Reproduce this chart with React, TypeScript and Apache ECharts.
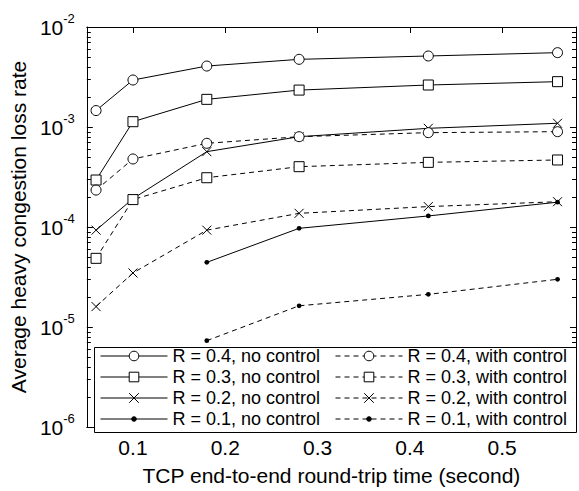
import React, { useEffect, useRef } from "react";
import * as echarts from "echarts";

// x positions (TCP round-trip time, seconds)
const xValues = [0.06, 0.1, 0.18, 0.28, 0.42, 0.56];

// Loss rates
const r04NoControl = [1.46e-3, 2.95e-3, 4.07e-3, 4.75e-3, 5.13e-3, 5.54e-3];
const r03NoControl = [2.95e-4, 1.13e-3, 1.89e-3, 2.34e-3, 2.63e-3, 2.84e-3];
const r02NoControl = [9.3e-5, 1.92e-4, 5.67e-4, 8.0e-4, 9.7e-4, 1.09e-3];
const r01NoControl = [null, null, 4.43e-5, 9.7e-5, 1.29e-4, 1.77e-4];
const r04WithControl = [2.34e-4, 4.79e-4, 6.87e-4, 8.0e-4, 8.78e-4, 8.98e-4];
const r03WithControl = [4.86e-5, 1.88e-4, 3.11e-4, 4.01e-4, 4.43e-4, 4.68e-4];
const r02WithControl = [1.6e-5, 3.47e-5, 9.3e-5, 1.37e-4, 1.6e-4, 1.79e-4];
const r01WithControl = [null, null, 7.3e-6, 1.63e-5, 2.12e-5, 3.0e-5];

const xTickValues = [0.1, 0.2, 0.3, 0.4, 0.5];
const xMin = 0.05;
const xMax = 0.58;
const yMin = 1e-6;
const yMax = 1e-2;

const noControlNames = [
  "R = 0.4, no control",
  "R = 0.3, no control",
  "R = 0.2, no control",
  "R = 0.1, no control",
];
const withControlNames = [
  "R = 0.4, with control",
  "R = 0.3, with control",
  "R = 0.2, with control",
  "R = 0.1, with control",
];

const FONT = "'Liberation Sans', Arial, sans-serif";

const SYM_CIRCLE = "circle";
const SYM_SQUARE = "rect";
const SYM_X = "path://M0 0L10 10M10 0L0 10";
const SYM_DOT = "path://M0 0M10 10M5 2.6A2.4 2.4 0 1 1 5 7.4A2.4 2.4 0 1 1 5 2.6Z";

function pairs(vals: (number | null)[]) {
  const out: number[][] = [];
  vals.forEach((v, i) => {
    if (v !== null) out.push([xValues[i], v]);
  });
  return out;
}

function minorTickValues() {
  const out: number[][] = [];
  for (let e = -6; e <= -3; e++) {
    for (let m = 2; m <= 9; m++) out.push([xMin, m * Math.pow(10, e)]);
  }
  return out;
}

function makeSeries(
  name: string,
  vals: (number | null)[],
  symbol: string,
  size: number,
  dashed: boolean,
  filled: boolean
) {
  return {
    name,
    type: "line",
    xAxisIndex: 0,
    yAxisIndex: 0,
    data: pairs(vals),
    symbol,
    symbolSize: size,
    showSymbol: true,
    z: 2,
    lineStyle: {
      color: "#000",
      width: 1,
      type: dashed ? [5, 4] : "solid",
    },
    itemStyle: filled
      ? { color: "#000", borderColor: "#000", borderWidth: 0 }
      : { color: "#fff", borderColor: "#000", borderWidth: 1 },
    emphasis: { disabled: true },
  };
}

export default function App() {
  const ref = useRef<HTMLDivElement>(null);

  useEffect(() => {
    if (!ref.current) return;
    const chart = echarts.init(ref.current, undefined, { renderer: "svg" });

    const legendCommon = {
      orient: "vertical",
      top: 347,
      padding: 0,
      itemWidth: 67,
      itemHeight: 12,
      itemGap: 3,
      selectedMode: false,
      textStyle: { fontSize: 18, fontFamily: FONT, color: "#000", lineHeight: 18 },
      lineStyle: { width: 1 },
      itemStyle: { borderWidth: 1 },
    };

    const option: any = {
      animation: false,
      backgroundColor: "#fff",
      textStyle: { fontFamily: FONT, color: "#000" },
      grid: { left: 79, top: 27, width: 497, height: 400, containLabel: false },
      xAxis: [
        {
          type: "value",
          position: "bottom",
          min: xMin,
          max: xMax,
          name: "TCP end-to-end round-trip time (second)",
          nameLocation: "middle",
          nameGap: 38,
          nameTextStyle: { fontSize: 21, fontFamily: FONT, color: "#000" },
          axisLine: { show: true, onZero: false, lineStyle: { color: "#000", width: 1 } },
          axisTick: { show: true, inside: true, length: 6, customValues: xTickValues, lineStyle: { color: "#000" } },
          axisLabel: {
            show: true,
            margin: 10,
            customValues: xTickValues,
            fontSize: 21,
            fontFamily: FONT,
            color: "#000",
            formatter: (v: number) => String(Math.round(v * 10) / 10),
          },
          splitLine: { show: false },
        },
        {
          type: "value",
          position: "top",
          min: xMin,
          max: xMax,
          axisLine: { show: true, onZero: false, lineStyle: { color: "#000", width: 1 } },
          axisTick: { show: true, inside: true, length: 6, customValues: xTickValues, lineStyle: { color: "#000" } },
          axisLabel: { show: false },
          splitLine: { show: false },
        },
      ],
      yAxis: [
        {
          type: "log",
          logBase: 10,
          position: "left",
          min: yMin,
          max: yMax,
          name: "Average heavy congestion loss rate",
          nameLocation: "middle",
          nameGap: 48,
          nameRotate: 90,
          nameTextStyle: { fontSize: 21, fontFamily: FONT, color: "#000" },
          axisLine: { show: true, onZero: false, lineStyle: { color: "#000", width: 1 } },
          axisTick: { show: true, inside: true, length: 6, lineStyle: { color: "#000" } },
          axisLabel: {
            show: true,
            margin: 12,
            formatter: (v: number) => `{b|10}{s|${Math.round(Math.log10(v))}}`,
            rich: {
              b: { fontSize: 21, fontFamily: FONT, color: "#000", lineHeight: 21 },
              s: { fontSize: 13, fontFamily: FONT, color: "#000", lineHeight: 13, padding: [0, 0, 18, 0] },
            },
          },
          splitLine: { show: false },
        },
        {
          type: "log",
          logBase: 10,
          position: "right",
          min: yMin,
          max: yMax,
          axisLine: { show: true, onZero: false, lineStyle: { color: "#000", width: 1 } },
          axisTick: { show: true, inside: true, length: 6, lineStyle: { color: "#000" } },
          axisLabel: { show: false },
          splitLine: { show: false },
        },
      ],
      legend: [
        { ...legendCommon, left: 100, data: noControlNames },
        { ...legendCommon, left: 335, data: withControlNames },
      ],
      graphic: {
        elements: [
          {
            type: "rect",
            z: 3,
            shape: { x: 94.5, y: 347.5, width: 482, height: 85 },
            style: { fill: "#fff", stroke: "#000", lineWidth: 1 },
          },
        ],
      },
      series: [
        makeSeries(noControlNames[0], r04NoControl, SYM_CIRCLE, 10, false, false),
        makeSeries(noControlNames[1], r03NoControl, SYM_SQUARE, 10, false, false),
        makeSeries(noControlNames[2], r02NoControl, SYM_X, 9, false, false),
        makeSeries(noControlNames[3], r01NoControl, SYM_DOT, 10, false, true),
        makeSeries(withControlNames[0], r04WithControl, SYM_CIRCLE, 10, true, false),
        makeSeries(withControlNames[1], r03WithControl, SYM_SQUARE, 10, true, false),
        makeSeries(withControlNames[2], r02WithControl, SYM_X, 9, true, false),
        makeSeries(withControlNames[3], r01WithControl, SYM_DOT, 10, true, true),
        {
          type: "custom",
          name: "minorTicks",
          xAxisIndex: 0,
          yAxisIndex: 0,
          data: minorTickValues(),
          z: 1,
          silent: true,
          renderItem: (params: any, api: any) => {
            const p = api.coord([api.value(0), api.value(1)]);
            const cs = params.coordSys;
            const y = Math.round(p[1]) + 0.5;
            return {
              type: "group",
              children: [
                {
                  type: "line",
                  shape: { x1: cs.x, y1: y, x2: cs.x + 4, y2: y },
                  style: { stroke: "#000", lineWidth: 1 },
                },
                {
                  type: "line",
                  shape: { x1: cs.x + cs.width - 4, y1: y, x2: cs.x + cs.width, y2: y },
                  style: { stroke: "#000", lineWidth: 1 },
                },
              ],
            };
          },
        },
      ],
    };

    chart.setOption(option);
    return () => chart.dispose();
  }, []);

  return (
    <div
      ref={ref}
      style={{ position: "fixed", left: 0, top: 0, width: 579, height: 491, background: "#fff" }}
    />
  );
}
